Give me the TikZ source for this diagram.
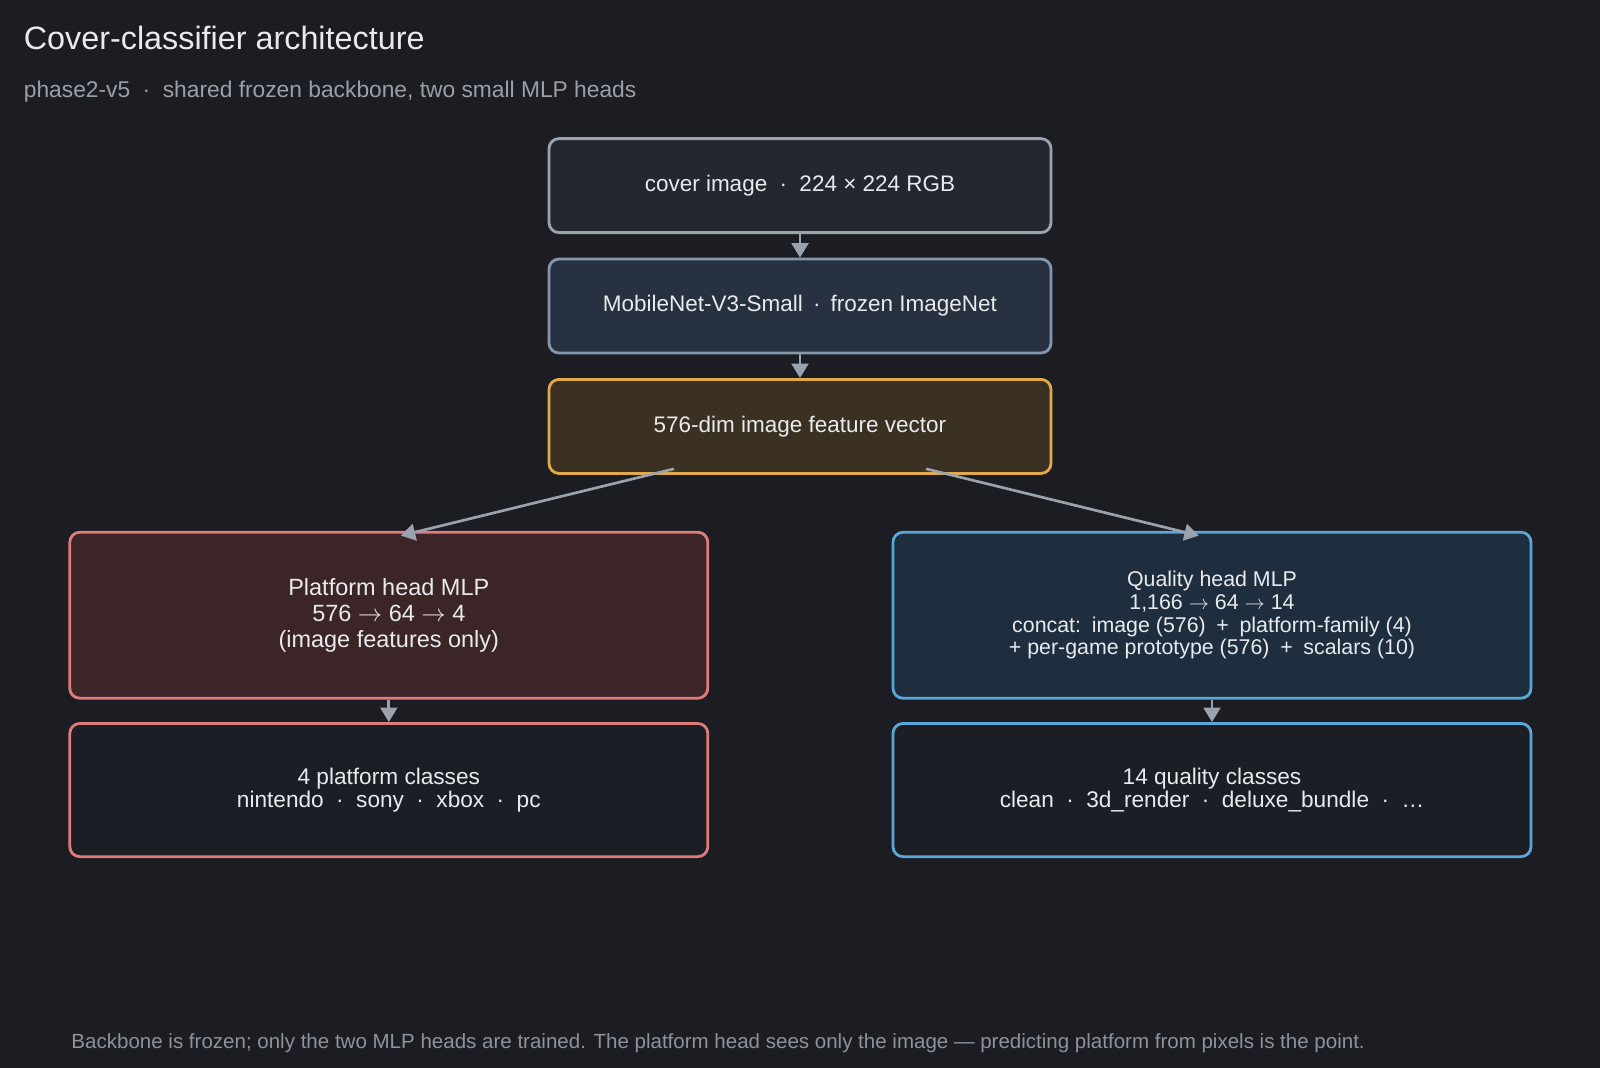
\documentclass[tikz,border=0pt]{standalone}
\usepackage{fontspec}
\setmainfont{Liberation Sans}
\usepackage{xcolor}
\usepackage{tikz}
\usetikzlibrary{positioning,arrows.meta,calc}

\definecolor{bgdark}{HTML}{1B1D23}
\definecolor{txtlight}{HTML}{E8EAED}
\definecolor{txtmuted}{HTML}{9AA0A8}
\definecolor{txtfoot}{HTML}{8D939C}
\definecolor{arrgray}{HTML}{9AA2AD}
\definecolor{inputfill}{HTML}{232730}
\definecolor{inputline}{HTML}{9BA3AE}
\definecolor{backfill}{HTML}{27313F}
\definecolor{backline}{HTML}{8797AB}
\definecolor{featfill}{HTML}{3B3122}
\definecolor{featline}{HTML}{E2A94A}
\definecolor{platfill}{HTML}{3B2527}
\definecolor{platline}{HTML}{E07B7B}
\definecolor{qualfill}{HTML}{1F2E3F}
\definecolor{qualline}{HTML}{5AA6D6}
\definecolor{clsfill}{HTML}{1B1E25}

\newcommand{\sepdot}{\hspace{0.55em}·\hspace{0.55em}}
\newcommand{\rto}{\ $\rightarrow$\ }

\begin{document}
\begin{tikzpicture}[
  node distance=0.59cm,
  every node/.style={text=txtlight, font=\fontsize{16}{18}\selectfont},
  stage/.style={rectangle, draw, line width=2pt, rounded corners=0.25cm, minimum width=12.55cm, minimum height=2.35cm, align=center},
  head/.style={stage, minimum width=15.95cm, minimum height=4.15cm},
  outcls/.style={stage, minimum width=15.95cm, minimum height=3.33cm, fill=clsfill, font=\fontsize{16.1}{16.4}\selectfont},
  arr/.style={-{Triangle[length=0.36cm,width=0.42cm]}, line width=1.9pt, draw=arrgray},
  caption/.style={anchor=base west, inner sep=0pt},
]
  \fill[bgdark] (0,0) rectangle (40,-26.7);
  \node[caption, font=\fontsize{23}{28}\selectfont] (title) at (0.59,-1.23) {Cover-classifier architecture};
  \node[caption, text=txtmuted, font=\fontsize{16.2}{19}\selectfont] (subtitle) at (0.59,-2.44) {phase2-v5\sepdot shared frozen backbone, two small MLP heads};

  \node[stage, fill=inputfill, draw=inputline] (cover) at (20,-4.64) {cover image\sepdot 224 × 224 RGB};
  \node[stage, fill=backfill, draw=backline, below=of cover] (backbone) {MobileNet-V3-Small\hspace{0.45em}·\hspace{0.45em}frozen ImageNet};
  \node[stage, fill=featfill, draw=featline, below=of backbone] (feat) {576-dim image feature vector};

  \node[head, fill=platfill, draw=platline, below=1.4cm of feat, xshift=-10.28cm, font=\fontsize{16.7}{18.5}\selectfont] (plathead) {Platform head MLP\\576\rto 64\rto 4\\(image features only)};
  \node[head, fill=qualfill, draw=qualline, below=1.4cm of feat, xshift=10.3cm, font=\fontsize{15.2}{16.2}\selectfont] (qualhead) {Quality head MLP\\1,166\rto 64\rto 14\\concat:\enspace image (576)\enspace +\enspace platform-family (4)\\+ per-game prototype (576)\enspace +\enspace scalars (10)};

  \node[outcls, draw=platline, below=0.56cm of plathead] (platcls) {4 platform classes\\nintendo\sepdot sony\sepdot xbox\sepdot pc};
  \node[outcls, draw=qualline, below=0.56cm of qualhead] (qualcls) {14 quality classes\\clean\sepdot 3d\_render\sepdot deluxe\_bundle\sepdot …};

  \draw[arr] (cover) -- (backbone);
  \draw[arr] (backbone) -- (feat);
  \draw[arr] ([xshift=-3.15cm,yshift=0.15cm]feat.south) -- ([xshift=0.3cm,yshift=-0.12cm]plathead.north);
  \draw[arr] ([xshift=3.15cm,yshift=0.15cm]feat.south) -- ([xshift=-0.33cm,yshift=-0.12cm]qualhead.north);
  \draw[arr] (plathead) -- (platcls);
  \draw[arr] (qualhead) -- (qualcls);

  \node[caption, text=txtfoot, font=\fontsize{14.6}{16}\selectfont] (footnote) at (1.78,-26.2) {Backbone is frozen; only the two MLP heads are trained. The platform head sees only the image — predicting platform from pixels is the point.};
\end{tikzpicture}
\end{document}
